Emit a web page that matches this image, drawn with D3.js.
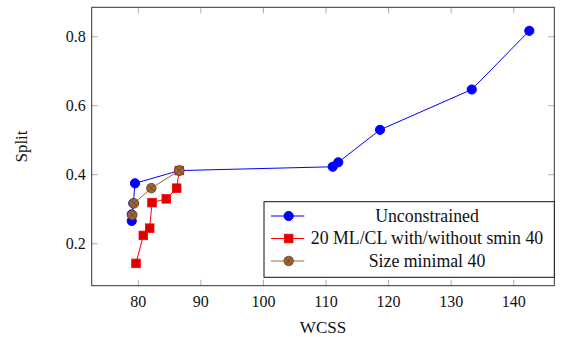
<!DOCTYPE html>
<html>
<head>
<meta charset="utf-8">
<script src="https://cdn.jsdelivr.net/npm/d3@7"></script>
<style>
  body { margin: 0; background: #fff; }
</style>
</head>
<body>
<div id="chart"></div>
<script>
const width = 569
const height = 337

// plot frame in pixels
const margin = ({ top: 7.3, right: 14.7, bottom: 51.3, left: 91.7 })

// series (WCSS, Split)
const unconstrainedX = [78.95, 78.95, 79.2, 79.47, 86.55, 111.07, 111.96, 118.63, 133.3, 142.5]
const unconstrainedY = [0.266, 0.285, 0.317, 0.375, 0.412, 0.423, 0.436, 0.530, 0.647, 0.817]

const mlclX = [79.63, 80.8, 81.82, 82.19, 84.47, 86.13, 86.55]
const mlclY = [0.143, 0.224, 0.245, 0.319, 0.330, 0.361, 0.412]

const sizeX = [79.04, 79.31, 82.08, 86.55]
const sizeY = [0.283, 0.317, 0.361, 0.412]

const xTicks = [80, 90, 100, 110, 120, 130, 140]
const yTicks = [0.2, 0.4, 0.6, 0.8]

const seriesNames = ["Unconstrained", "20 ML/CL with/without smin 40", "Size minimal 40"]

const x = d3.scaleLinear([72.55, 146.49], [margin.left, width - margin.right])
const y = d3.scaleLinear([0.0783, 0.8852], [height - margin.bottom, margin.top])

const series = [
    { name: seriesNames[0], xs: unconstrainedX, ys: unconstrainedY, color: "#0000ff", mark: "circle" },
    { name: seriesNames[1], xs: mlclX, ys: mlclY, color: "#ff0000", mark: "square" },
    { name: seriesNames[2], xs: sizeX, ys: sizeY, color: "#99663a", mark: "otimes" }
]

const serif = `"Liberation Serif"`

const svg = d3.select("#chart").append("svg")
    .attr("width", width)
    .attr("height", height)

const tickLen = 6
const x0 = margin.left, x1 = width - margin.right
const y0 = margin.top, y1 = height - margin.bottom

// ticks (inward, mirrored on opposite side)
const ticks = svg.append("g").attr("stroke", "#999").attr("stroke-width", 0.8)
ticks.selectAll(".xb").data(xTicks).join("line")
    .attr("x1", d => x(d)).attr("x2", d => x(d))
    .attr("y1", y1).attr("y2", y1 - tickLen)
ticks.selectAll(".xt").data(xTicks).join("line")
    .attr("x1", d => x(d)).attr("x2", d => x(d))
    .attr("y1", y0).attr("y2", y0 + tickLen)
ticks.selectAll(".yl").data(yTicks).join("line")
    .attr("x1", x0).attr("x2", x0 + tickLen)
    .attr("y1", d => y(d)).attr("y2", d => y(d))
ticks.selectAll(".yr").data(yTicks).join("line")
    .attr("x1", x1).attr("x2", x1 - tickLen)
    .attr("y1", d => y(d)).attr("y2", d => y(d))

svg.append("g")
    .selectAll("text")
    .data(xTicks)
    .join("text")
    .style("font-family", serif)
    .attr("x", d => x(d))
    .attr("y", y1 + 21)
    .attr("text-anchor", "middle")
    .attr("font-size", 16)
    .attr("fill", "#111")
    .text(d => d)

svg.append("g")
    .selectAll("text")
    .data(yTicks)
    .join("text")
    .style("font-family", serif)
    .attr("x", x0 - 6)
    .attr("y", d => y(d) + 5)
    .attr("text-anchor", "end")
    .attr("font-size", 16)
    .attr("fill", "#111")
    .text(d => d3.format(".1f")(d))

// axis titles
svg.append("text")
    .style("font-family", serif)
    .attr("x", (x0 + x1) / 2)
    .attr("y", 333)
    .attr("text-anchor", "middle")
    .attr("font-size", 17)
    .attr("fill", "#111")
    .text("WCSS")

svg.append("text")
    .style("font-family", serif)
    .attr("transform", `translate(27,${(y0 + y1) / 2}) rotate(-90)`)
    .attr("text-anchor", "middle")
    .attr("font-size", 17)
    .attr("fill", "#111")
    .text("Split")

function drawMark(g, mark, color, px, py) {
    if (mark === "circle") {
        g.append("circle").attr("cx", px).attr("cy", py).attr("r", 4.6)
            .attr("fill", color).attr("stroke", color)
    } else if (mark === "square") {
        g.append("rect").attr("x", px - 4.3).attr("y", py - 4.3)
            .attr("width", 8.6).attr("height", 8.6)
            .attr("fill", "#dd0000").attr("stroke", "#ff0000").attr("stroke-width", 0.8)
    } else {
        g.append("circle").attr("cx", px).attr("cy", py).attr("r", 4.8)
            .attr("fill", color).attr("stroke", "#6b4423").attr("stroke-width", 0.8)
        const r = 4.8 * 0.7071
        g.append("path")
            .attr("d", `M${px - r},${py - r}L${px + r},${py + r}M${px - r},${py + r}L${px + r},${py - r}`)
            .attr("stroke", "#6b4423").attr("stroke-width", 0.8)
    }
}

const line = d3.line().x(d => x(d[0])).y(d => y(d[1]))

const plot = svg.append("g")
series.forEach(s => {
    const pts = s.xs.map((v, i) => [v, s.ys[i]])
    const g = plot.append("g")
    g.append("path")
        .attr("d", line(pts))
        .attr("fill", "none")
        .attr("stroke", s.color)
        .attr("stroke-width", 1)
    pts.forEach(p => drawMark(g, s.mark, s.color, x(p[0]), y(p[1])))
})

// frame
svg.append("rect")
    .attr("x", x0).attr("y", y0)
    .attr("width", x1 - x0).attr("height", y1 - y0)
    .attr("fill", "none").attr("stroke", "#333").attr("stroke-width", 1)

// legend
const lg = svg.append("g")
lg.append("rect")
    .attr("x", 264).attr("y", 201.7)
    .attr("width", x1 - 264).attr("height", 75.6)
    .attr("fill", "#fff").attr("stroke", "#111").attr("stroke-width", 1)

series.forEach((s, i) => {
    const cy = 216 + i * 22.5
    lg.append("line")
        .attr("x1", 271).attr("x2", 304.3)
        .attr("y1", cy).attr("y2", cy)
        .attr("stroke", s.color).attr("stroke-width", 1)
    drawMark(lg, s.mark, s.color, 288.7, cy)
    lg.append("text")
        .style("font-family", serif)
        .attr("x", 427)
        .attr("y", cy + 5.5)
        .attr("text-anchor", "middle")
        .attr("font-size", 17.8)
        .attr("fill", "#111")
        .text(s.name)
})
</script>
</body>
</html>
